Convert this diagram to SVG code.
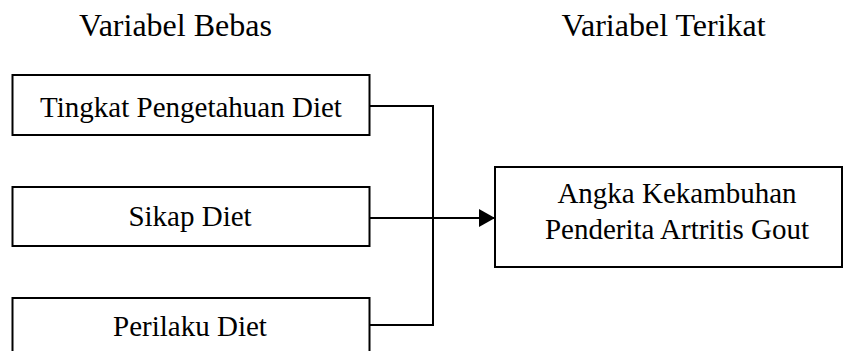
<svg xmlns="http://www.w3.org/2000/svg" width="843" height="351" viewBox="0 0 843 351">
<style>
.box{fill:#fff;stroke:#000;stroke-width:2}
.t{font-family:"Liberation Serif","Times New Roman",serif;font-size:29px;fill:#000;text-anchor:middle}
.h{font-family:"Liberation Serif","Times New Roman",serif;font-size:32px;fill:#000;text-anchor:middle}
.c{fill:none;stroke:#000;stroke-width:2}
</style>
<defs>
<marker id="arr" markerWidth="16" markerHeight="18" refX="16" refY="9" orient="auto" markerUnits="userSpaceOnUse">
<path d="M0,0 L16,9 L0,18 Z" fill="#000"/>
</marker>
</defs>
<rect width="843" height="351" fill="#fff"/>
<g id="headers">
<text class="h" x="175.5" y="36">Variabel Bebas</text>
<text class="h" x="663.5" y="36">Variabel Terikat</text>
</g>
<g id="connectors">
<polyline class="c" points="370,106 433,106 433,325 370,325"/>
<line class="c" x1="370" y1="218" x2="495" y2="218" marker-end="url(#arr)"/>
</g>
<g id="node-pengetahuan">
<rect class="box" x="12.5" y="75" width="357" height="60"/>
<text class="t" x="191" y="117">Tingkat Pengetahuan Diet</text>
</g>
<g id="node-sikap">
<rect class="box" x="12.5" y="187" width="357" height="59"/>
<text class="t" x="190" y="226">Sikap Diet</text>
</g>
<g id="node-perilaku">
<rect class="box" x="12.5" y="298" width="357" height="70"/>
<text class="t" x="190" y="336">Perilaku Diet</text>
</g>
<g id="node-kekambuhan">
<rect class="box" x="495" y="167" width="347" height="100"/>
<text class="t" x="677" y="203">Angka Kekambuhan</text>
<text class="t" x="677" y="239">Penderita Artritis Gout</text>
</g>
</svg>
